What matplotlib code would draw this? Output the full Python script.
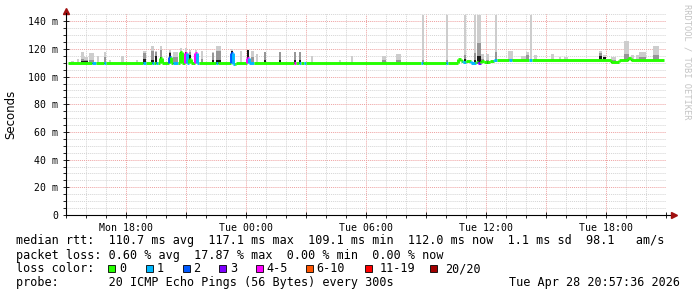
import numpy as np
import matplotlib
matplotlib.use("Agg")
import matplotlib.pyplot as plt
from matplotlib.patches import Rectangle

# time axis: hours since Mon 15:00, window ends Tue 20:57:36
x_ticks = [3, 9, 15, 21, 27]
x_labels = ["Mon 18:00", "Tue 00:00", "Tue 06:00", "Tue 12:00", "Tue 18:00"]
y_ticks = [0, 20, 40, 60, 80, 100, 120, 140]

# smoke (ping spread) per burst: start/end hour, max rtt, upper rtt, dense rtt (ms)
smoke_t0 = [0.24, 0.55, 0.74, 0.89, 1.14, 1.54, 1.89, 2.14, 2.74, 3.49,
            3.84, 4.24, 4.44, 4.69, 5.14, 5.34, 5.69, 5.94, 6.14, 6.44,
            6.74, 7.29, 7.49, 8.24, 8.69, 9.04, 9.24, 9.49, 9.89, 10.64,
            11.39, 11.64, 12.24, 13.64, 14.24, 15.79, 16.49, 17.79, 19.00, 19.89,
            20.39, 20.54, 20.74, 20.99, 21.44, 22.09, 22.74, 22.99, 23.19, 23.39,
            24.24, 24.64, 24.89, 26.64, 26.84, 27.24, 27.89, 28.24, 28.49, 28.64,
            29.34]
smoke_t1 = [0.38, 0.63, 0.89, 1.09, 1.39, 1.64, 1.99, 2.22, 2.89, 3.57,
            3.99, 4.39, 4.52, 4.79, 5.24, 5.59, 5.79, 6.04, 6.24, 6.54,
            6.84, 7.39, 7.74, 8.34, 8.79, 9.14, 9.39, 9.57, 9.99, 10.74,
            11.49, 11.74, 12.32, 13.74, 14.32, 15.99, 16.74, 17.89, 19.09, 19.99,
            20.49, 20.74, 20.90, 21.14, 21.54, 22.34, 22.99, 23.14, 23.29, 23.54,
            24.39, 24.74, 25.09, 26.79, 26.99, 27.49, 28.14, 28.39, 28.64, 28.99,
            29.64]
smoke_max = [111.5, 112.7, 118.0, 114.4, 117.0, 115.0, 118.0, 111.8, 115.0, 112.0,
             118.6, 121.8, 118.6, 121.8, 119.3, 118.0, 121.0, 121.0, 119.3, 119.0,
             118.6, 118.0, 121.8, 120.0, 118.6, 119.5, 118.6, 116.2, 118.0, 118.0,
             118.0, 118.0, 115.0, 111.8, 115.0, 115.0, 116.2, 144.5, 144.5, 144.5,
             144.5, 144.5, 116.2, 116.2, 144.5, 118.6, 115.0, 118.0, 144.5, 115.5,
             116.2, 114.5, 114.5, 118.6, 115.5, 114.5, 125.7, 115.5, 115.5, 118.0,
             122.5]
smoke_upper = [110.0, 110.0, 113.0, 112.0, 112.0, 110.0, 114.0, 110.0, 110.0, 110.0,
               117.0, 118.6, 118.0, 119.0, 118.0, 114.0, 118.0, 118.0, 118.0, 116.5,
               113.0, 117.0, 118.6, 118.5, 110.0, 119.0, 114.0, 110.0, 117.5, 117.5,
               117.5, 117.5, 110.0, 110.0, 110.0, 112.0, 112.0, 112.0, 112.0, 116.0,
               117.0, 124.0, 113.0, 112.0, 118.0, 113.0, 112.5, 116.0, 113.0, 112.5,
               113.0, 112.5, 112.5, 117.0, 114.5, 112.0, 116.2, 113.0, 113.0, 114.0,
               116.0]
smoke_dense = [110.0, 110.0, 111.0, 111.5, 110.0, 110.0, 110.0, 110.0, 110.0, 110.0,
               113.0, 112.0, 115.0, 114.0, 117.0, 110.0, 118.0, 118.0, 116.0, 116.5,
               110.0, 112.0, 112.0, 118.5, 110.0, 119.0, 110.0, 110.0, 112.0, 112.0,
               112.0, 112.0, 110.0, 110.0, 110.0, 110.0, 110.0, 110.0, 110.0, 113.0,
               112.0, 115.0, 111.0, 111.0, 113.0, 111.0, 111.0, 112.0, 112.0, 111.0,
               112.0, 112.0, 112.0, 115.0, 114.0, 110.8, 113.0, 112.0, 112.0, 112.0,
               112.0]

# median rtt as steps: start hour, value (ms), loss class index
med_t = [0.07, 1.30, 1.49, 1.89, 1.99, 3.84, 3.99, 4.29, 4.39, 4.49,
         4.59, 4.69, 4.79, 5.14, 5.24, 5.34, 5.59, 5.69, 5.79, 5.94,
         6.04, 6.14, 6.24, 6.44, 6.54, 6.64, 7.49, 7.59, 8.24, 8.34,
         8.44, 8.49, 9.04, 9.14, 9.39, 11.39, 11.49, 11.64, 11.74, 11.89,
         12.00, 17.74, 17.84, 18.99, 19.09, 19.59, 19.74, 19.84, 19.99, 20.24,
         20.49, 20.59, 20.74, 20.89, 21.04, 21.19, 21.39, 21.54, 22.14, 22.29,
         23.14, 23.29, 27.24, 27.64, 28.09, 28.24]
med_v = [110.2, 110.2, 110.2, 110.2, 110.2, 110.2, 110.2, 110.2, 110.2, 110.2,
         110.2, 113.5, 110.2, 114.0, 110.2, 110.2, 110.2, 118.0, 110.2, 117.0,
         110.2, 113.0, 110.2, 116.8, 110.2, 110.2, 110.2, 110.2, 116.9, 109.5,
         109.0, 110.2, 113.2, 110.2, 110.2, 110.2, 110.2, 110.2, 110.2, 110.2,
         110.2, 110.2, 110.2, 110.2, 110.2, 112.7, 111.5, 110.8, 111.5, 110.2,
         110.5, 110.0, 111.5, 110.3, 110.8, 111.3, 111.9, 111.9, 111.9, 111.9,
         111.9, 111.9, 110.8, 111.9, 113.2, 111.9]
med_loss = [0, 1, 0, 1, 0, 1, 0, 1, 0, 1,
            0, 0, 0, 2, 0, 1, 0, 0, 0, 4,
            1, 0, 0, 4, 1, 0, 1, 0, 2, 1,
            0, 0, 4, 1, 0, 4, 0, 1, 0, 1,
            0, 1, 0, 1, 0, 0, 0, 1, 0, 1,
            0, 3, 0, 0, 0, 0, 1, 0, 1, 0,
            1, 0, 0, 0, 0, 0]
med_end = 29.87

loss_labels = ["0", "1", "2", "3", "4-5", "6-10", "11-19", "20/20"]
loss_colors = ["#26ff00", "#00b8ff", "#0059ff", "#7e00ff",
               "#ff00ff", "#ff5500", "#ff0000", "#a10000"]

W, H = 697, 297
fig = plt.figure(figsize=(W / 100, H / 100), dpi=100)
fig.patch.set_facecolor("white")
ax = fig.add_axes([66.3 / W, 1 - 215 / H, 600 / W, 202 / H])
ax.set_xlim(0, 30)
ax.set_ylim(0, 146)

# grid
ax.set_xticks(np.arange(0, 31, 3))
ax.set_xticklabels([x_labels[x_ticks.index(t)] if t in x_ticks else "" for t in range(0, 31, 3)])
ax.set_xticks(np.arange(0, 31, 1), minor=True)
ax.set_yticks(y_ticks)
ax.set_yticklabels(["0" if v == 0 else f"{v} m" for v in y_ticks])
ax.set_yticks(np.arange(0, 146, 5), minor=True)
ax.grid(which="minor", color="#d4d4d4", linestyle=(0, (1, 1)), linewidth=0.7, zorder=0)
ax.grid(which="major", color="#eea0a0", linestyle=(0, (1, 1)), linewidth=0.7, zorder=0)
ax.set_axisbelow(True)

mono = "DejaVu Sans Mono"
ax.tick_params(axis="both", which="both", labelsize=7.1, colors="#000000", width=0.6)
ax.tick_params(axis="y", which="major", direction="inout", length=4, pad=4)
ax.tick_params(axis="y", which="minor", direction="out", length=2)
ax.tick_params(axis="x", which="major", direction="inout", length=4, pad=3.5)
ax.tick_params(axis="x", which="minor", direction="out", length=2)
for lab in ax.get_xticklabels() + ax.get_yticklabels():
    lab.set_family(mono)

for s in ["top", "right"]:
    ax.spines[s].set_visible(False)
ax.spines["left"].set_linewidth(0.8)
ax.spines["bottom"].set_linewidth(0.8)
ax.plot([1.0, 1.008], [0, 0], transform=ax.transAxes, color="black", lw=0.8, clip_on=False)
ax.plot([1.012], [0], marker=">", markersize=4, color="#a01010", transform=ax.transAxes, clip_on=False)
ax.plot([0], [1.012], marker="^", markersize=4, color="#a01010", transform=ax.transAxes, clip_on=False)

# smoke
med_edges = np.array(med_t + [med_end])
t0 = np.array(smoke_t0)
t1 = np.array(smoke_t1)
idx = np.clip(np.searchsorted(med_edges, t0, side="right") - 1, 0, len(med_v) - 1)
base = np.array(med_v)[idx] - 0.8
widths = t1 - t0
ax.bar(t0, np.array(smoke_max) - base, width=widths, bottom=base, align="edge",
       color="#cdcdcd", linewidth=0, zorder=2)
ax.bar(t0, np.maximum(np.array(smoke_upper) - base, 0), width=widths, bottom=base,
       align="edge", color="#969696", linewidth=0, zorder=3)
ax.bar(t0, np.maximum(np.array(smoke_dense) - base, 0), width=widths, bottom=base,
       align="edge", color="#1a1a1a", linewidth=0, zorder=4)

# median line coloured by loss
for i in range(len(med_v)):
    c = loss_colors[med_loss[i]]
    ax.plot([med_edges[i], med_edges[i + 1]], [med_v[i], med_v[i]], color=c,
            lw=2.1, solid_capstyle="butt", zorder=5)
    if i > 0 and med_v[i] != med_v[i - 1]:
        ax.plot([med_edges[i], med_edges[i]], [med_v[i - 1], med_v[i]], color=c,
                lw=2.1, solid_capstyle="butt", zorder=5)

fig.text(11 / W, 1 - 114 / H, "Seconds", rotation=90, fontsize=8.5,
         family="DejaVu Sans", ha="center", va="center")

# watermark
fig.text(687 / W, 1 - 4 / H, "RRDTOOL / TOBI OETIKER", rotation=270, family=mono,
         fontsize=6.3, color="#c4c4c4", ha="center", va="top")

# legend block
def ftext(x, y, s, **kw):
    fig.text(x / W, 1 - y / H, s, family=mono, fontsize=8.5, va="baseline", **kw)

ftext(16, 244, "median rtt:  110.7 ms avg  117.1 ms max  109.1 ms min  112.0 ms now  1.1 ms sd  98.1   am/s")
ftext(16, 258.5, "packet loss: 0.60 % avg  17.87 % max  0.00 % min  0.00 % now")
ftext(16, 272, "loss color:")
box_x = [108.3, 145.7, 182.5, 219.0, 255.8, 305.8, 365.0, 430.0]
lab_x = [119.3, 156.7, 193.3, 230.0, 266.7, 316.7, 380.0, 445.0]
for bx, lx, lab, col in zip(box_x, lab_x, loss_labels, loss_colors):
    fig.patches.append(Rectangle((bx / W, 1 - 272 / H), 7 / W, 7 / H, transform=fig.transFigure,
                                 facecolor=col, edgecolor="#000000", linewidth=0.6))
    ftext(lx, 272, lab)
ftext(16, 286, "probe:       20 ICMP Echo Pings (56 Bytes) every 300s")
ftext(680, 286, "Tue Apr 28 20:57:36 2026", ha="right")

fig.savefig("out.png", dpi=100, facecolor="white")
